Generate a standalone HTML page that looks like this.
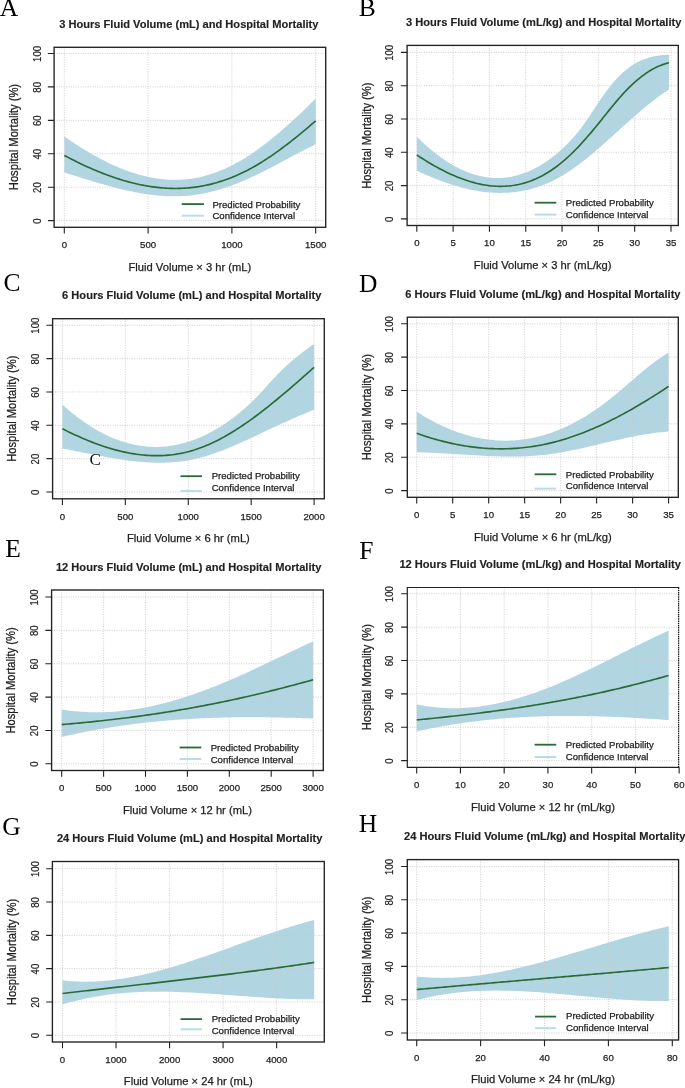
<!DOCTYPE html>
<html><head><meta charset="utf-8"><style>
html,body{margin:0;padding:0;background:#fff;}
body{width:685px;height:1088px;overflow:hidden;}
svg{display:block;will-change:transform;}
text{font-family:"Liberation Sans",sans-serif;fill:#222222;}
.tk,.lab,.lg{stroke:#222;stroke-width:0.25px;}
.tk{font-size:9.6px;}
.tky{font-size:10px;stroke:#222;stroke-width:0.2px;}
.lab{font-size:11.2px;}
.laby{font-size:12px;stroke:#222;stroke-width:0.25px;}
.ttl{font-size:11.1px;font-weight:bold;stroke:#222;stroke-width:0.15px;}
.lg{font-size:9.6px;}
.let{font-family:"Liberation Serif",serif;font-size:25.5px;fill:#000;}
.strayc{font-family:"Liberation Serif",serif;font-size:17px;fill:#111;}
</style></head><body>
<svg width="685" height="1088" viewBox="0 0 685 1088">
<polygon points="64.3,136.4 66.41,137.87 68.53,139.32 70.64,140.76 72.75,142.18 74.86,143.57 76.98,144.95 79.09,146.31 81.2,147.64 83.31,148.96 85.43,150.25 87.54,151.52 89.65,152.77 91.76,153.99 93.88,155.2 95.99,156.37 98.1,157.53 100.21,158.66 102.33,159.76 104.44,160.84 106.55,161.9 108.66,162.93 110.78,163.93 112.89,164.91 115,165.85 117.12,166.78 119.23,167.67 121.34,168.53 123.45,169.37 125.57,170.18 127.68,170.96 129.79,171.7 131.9,172.42 134.02,173.11 136.13,173.77 138.24,174.39 140.35,174.99 142.47,175.55 144.58,176.08 146.69,176.57 148.8,177.04 150.92,177.47 153.03,177.86 155.14,178.22 157.25,178.55 159.37,178.84 161.48,179.09 163.59,179.31 165.71,179.5 167.82,179.64 169.93,179.75 172.04,179.82 174.16,179.86 176.27,179.85 178.38,179.81 180.49,179.73 182.61,179.61 184.72,179.45 186.83,179.25 188.94,179 191.06,178.72 193.17,178.4 195.28,178.03 197.39,177.63 199.51,177.18 201.62,176.7 203.73,176.17 205.84,175.6 207.96,174.99 210.07,174.35 212.18,173.66 214.29,172.93 216.41,172.17 218.52,171.36 220.63,170.52 222.75,169.64 224.86,168.72 226.97,167.76 229.08,166.76 231.2,165.72 233.31,164.65 235.42,163.53 237.53,162.38 239.65,161.19 241.76,159.97 243.87,158.7 245.98,157.4 248.1,156.06 250.21,154.69 252.32,153.28 254.43,151.83 256.55,150.35 258.66,148.83 260.77,147.28 262.88,145.7 265,144.08 267.11,142.44 269.22,140.77 271.34,139.07 273.45,137.34 275.56,135.59 277.67,133.81 279.79,132.01 281.9,130.19 284.01,128.34 286.12,126.47 288.24,124.59 290.35,122.68 292.46,120.76 294.57,118.82 296.69,116.87 298.8,114.9 300.91,112.92 303.02,110.92 305.14,108.92 307.25,106.9 309.36,104.87 311.47,102.84 313.59,100.8 315.7,98.75 315.7,144.35 313.59,145.36 311.47,146.39 309.36,147.43 307.25,148.49 305.14,149.56 303.02,150.64 300.91,151.73 298.8,152.83 296.69,153.94 294.57,155.06 292.46,156.18 290.35,157.3 288.24,158.43 286.12,159.56 284.01,160.69 281.9,161.82 279.79,162.95 277.67,164.07 275.56,165.19 273.45,166.31 271.34,167.41 269.22,168.51 267.11,169.6 265,170.68 262.88,171.75 260.77,172.8 258.66,173.84 256.55,174.87 254.43,175.88 252.32,176.87 250.21,177.84 248.1,178.79 245.98,179.72 243.87,180.63 241.76,181.52 239.65,182.39 237.53,183.24 235.42,184.06 233.31,184.86 231.2,185.64 229.08,186.39 226.97,187.12 224.86,187.83 222.75,188.51 220.63,189.16 218.52,189.79 216.41,190.39 214.29,190.97 212.18,191.52 210.07,192.04 207.96,192.53 205.84,192.99 203.73,193.43 201.62,193.84 199.51,194.21 197.39,194.56 195.28,194.88 193.17,195.16 191.06,195.42 188.94,195.64 186.83,195.83 184.72,195.99 182.61,196.12 180.49,196.22 178.38,196.29 176.27,196.33 174.16,196.34 172.04,196.33 169.93,196.29 167.82,196.22 165.71,196.13 163.59,196.01 161.48,195.86 159.37,195.69 157.25,195.5 155.14,195.29 153.03,195.05 150.92,194.79 148.8,194.51 146.69,194.21 144.58,193.89 142.47,193.55 140.35,193.19 138.24,192.81 136.13,192.41 134.02,192 131.9,191.57 129.79,191.12 127.68,190.66 125.57,190.18 123.45,189.69 121.34,189.19 119.23,188.67 117.12,188.14 115,187.6 112.89,187.04 110.78,186.48 108.66,185.91 106.55,185.32 104.44,184.73 102.33,184.12 100.21,183.51 98.1,182.9 95.99,182.27 93.88,181.64 91.76,181.01 89.65,180.36 87.54,179.72 85.43,179.07 83.31,178.42 81.2,177.76 79.09,177.1 76.98,176.44 74.86,175.78 72.75,175.12 70.64,174.46 68.53,173.8 66.41,173.14 64.3,172.48" fill="#b1d6e2"/>
<path d="M64.3 47.3V227.3M148.1 47.3V227.3M231.9 47.3V227.3M315.7 47.3V227.3M54.1 220.6H325.7M54.1 187.18H325.7M54.1 153.76H325.7M54.1 120.34H325.7M54.1 86.92H325.7M54.1 53.5H325.7" stroke="#c8c8c8" stroke-width="0.9" stroke-dasharray="1 1.4" fill="none"/>
<polyline points="64.3,155.43 66.41,156.54 68.53,157.64 70.64,158.73 72.75,159.8 74.86,160.86 76.98,161.9 79.09,162.93 81.2,163.94 83.31,164.94 85.43,165.92 87.54,166.88 89.65,167.82 91.76,168.75 93.88,169.66 95.99,170.56 98.1,171.43 100.21,172.29 102.33,173.13 104.44,173.94 106.55,174.74 108.66,175.53 110.78,176.29 112.89,177.03 115,177.75 117.12,178.45 119.23,179.12 121.34,179.78 123.45,180.42 125.57,181.03 127.68,181.62 129.79,182.19 131.9,182.74 134.02,183.26 136.13,183.76 138.24,184.24 140.35,184.69 142.47,185.12 144.58,185.52 146.69,185.9 148.8,186.26 150.92,186.59 153.03,186.89 155.14,187.17 157.25,187.42 159.37,187.64 161.48,187.84 163.59,188.01 165.71,188.16 167.82,188.27 169.93,188.36 172.04,188.42 174.16,188.45 176.27,188.45 178.38,188.43 180.49,188.37 182.61,188.28 184.72,188.17 186.83,188.02 188.94,187.85 191.06,187.64 193.17,187.4 195.28,187.13 197.39,186.83 199.51,186.49 201.62,186.13 203.73,185.73 205.84,185.31 207.96,184.85 210.07,184.36 212.18,183.83 214.29,183.28 216.41,182.69 218.52,182.07 220.63,181.41 222.75,180.73 224.86,180.01 226.97,179.26 229.08,178.47 231.2,177.66 233.31,176.81 235.42,175.92 237.53,175.01 239.65,174.05 241.76,173.07 243.87,172.05 245.98,171 248.1,169.91 250.21,168.79 252.32,167.64 254.43,166.45 256.55,165.23 258.66,163.97 260.77,162.69 262.88,161.37 265,160.02 267.11,158.65 269.22,157.25 271.34,155.81 273.45,154.36 275.56,152.87 277.67,151.37 279.79,149.83 281.9,148.28 284.01,146.7 286.12,145.1 288.24,143.48 290.35,141.83 292.46,140.17 294.57,138.49 296.69,136.8 298.8,135.08 300.91,133.35 303.02,131.61 305.14,129.85 307.25,128.07 309.36,126.29 311.47,124.49 313.59,122.68 315.7,120.86" fill="none" stroke="#2b6937" stroke-width="1.65" stroke-linejoin="round"/>
<rect x="54.1" y="47.3" width="271.6" height="180" fill="none" stroke="#222222" stroke-width="1.35"/>
<path d="M64.3 227.3v6.3M148.1 227.3v6.3M231.9 227.3v6.3M315.7 227.3v6.3M54.1 220.6h-6.2M54.1 187.18h-6.2M54.1 153.76h-6.2M54.1 120.34h-6.2M54.1 86.92h-6.2M54.1 53.5h-6.2" stroke="#222222" stroke-width="1.1" fill="none"/>
<text x="64.3" y="248.1" class="tk" text-anchor="middle">0</text>
<text x="148.1" y="248.1" class="tk" text-anchor="middle">500</text>
<text x="231.9" y="248.1" class="tk" text-anchor="middle">1000</text>
<text x="315.7" y="248.1" class="tk" text-anchor="middle">1500</text>
<text class="tky" text-anchor="middle" transform="translate(40.5 221) rotate(-90) scale(0.96 1)">0</text>
<text class="tky" text-anchor="middle" transform="translate(40.5 187.58) rotate(-90) scale(0.96 1)">20</text>
<text class="tky" text-anchor="middle" transform="translate(40.5 154.16) rotate(-90) scale(0.96 1)">40</text>
<text class="tky" text-anchor="middle" transform="translate(40.5 120.74) rotate(-90) scale(0.96 1)">60</text>
<text class="tky" text-anchor="middle" transform="translate(40.5 87.32) rotate(-90) scale(0.96 1)">80</text>
<text class="tky" text-anchor="middle" transform="translate(40.5 53.9) rotate(-90) scale(0.96 1)">100</text>
<text x="189.9" y="270.7" class="lab" text-anchor="middle">Fluid Volume × 3 hr (mL)</text>
<text class="laby" text-anchor="middle" transform="translate(17.9 137.05) rotate(-90) scale(0.933 1)">Hospital Mortality (%)</text>
<text x="188.8" y="28" class="ttl" text-anchor="middle">3 Hours Fluid Volume (mL) and Hospital Mortality</text>
<text x="-0.26" y="16.4" class="let">A</text>
<path d="M181.7 204.1H203.9" stroke="#2b6937" stroke-width="1.8"/>
<path d="M181.7 215.7H203.9" stroke="#bcdbe5" stroke-width="2"/>
<text x="212.4" y="207.5" class="lg">Predicted Probability</text>
<text x="212.4" y="219.2" class="lg">Confidence Interval</text>
<polygon points="416.8,136.53 418.92,138.64 421.04,140.69 423.16,142.69 425.28,144.64 427.4,146.53 429.51,148.38 431.63,150.16 433.75,151.9 435.87,153.58 437.99,155.21 440.11,156.78 442.23,158.3 444.35,159.76 446.47,161.17 448.59,162.53 450.71,163.83 452.82,165.07 454.94,166.26 457.06,167.39 459.18,168.47 461.3,169.49 463.42,170.45 465.54,171.36 467.66,172.2 469.78,173 471.9,173.73 474.02,174.41 476.13,175.03 478.25,175.59 480.37,176.1 482.49,176.54 484.61,176.93 486.73,177.25 488.85,177.52 490.97,177.73 493.09,177.88 495.21,177.97 497.33,178 499.44,177.97 501.56,177.88 503.68,177.73 505.8,177.52 507.92,177.25 510.04,176.92 512.16,176.52 514.28,176.07 516.4,175.55 518.52,174.97 520.64,174.33 522.75,173.62 524.87,172.86 526.99,172.03 529.11,171.13 531.23,170.18 533.35,169.16 535.47,168.07 537.59,166.93 539.71,165.71 541.83,164.44 543.95,163.1 546.06,161.69 548.18,160.22 550.3,158.69 552.42,157.09 554.54,155.42 556.66,153.69 558.78,151.89 560.9,150.03 563.02,148.09 565.14,146.09 567.26,144.02 569.37,141.86 571.49,139.61 573.61,137.26 575.73,134.82 577.85,132.26 579.97,129.59 582.09,126.79 584.21,123.87 586.33,120.82 588.45,117.67 590.57,114.45 592.68,111.2 594.8,107.94 596.92,104.71 599.04,101.53 601.16,98.44 603.28,95.42 605.4,92.5 607.52,89.68 609.64,86.95 611.76,84.34 613.88,81.83 615.99,79.44 618.11,77.17 620.23,75.04 622.35,73.03 624.47,71.15 626.59,69.4 628.71,67.76 630.83,66.25 632.95,64.85 635.07,63.56 637.19,62.37 639.3,61.29 641.42,60.31 643.54,59.42 645.66,58.63 647.78,57.92 649.9,57.3 652.02,56.75 654.14,56.28 656.26,55.89 658.38,55.56 660.5,55.3 662.61,55.1 664.73,54.96 666.85,54.87 668.97,54.84 668.97,89.56 666.85,90.93 664.73,92.35 662.61,93.8 660.5,95.3 658.38,96.84 656.26,98.41 654.14,100.02 652.02,101.67 649.9,103.34 647.78,105.05 645.66,106.78 643.54,108.54 641.42,110.32 639.3,112.13 637.19,113.95 635.07,115.79 632.95,117.65 630.83,119.52 628.71,121.41 626.59,123.3 624.47,125.2 622.35,127.11 620.23,129.03 618.11,130.94 615.99,132.86 613.88,134.77 611.76,136.69 609.64,138.59 607.52,140.49 605.4,142.38 603.28,144.26 601.16,146.13 599.04,147.98 596.92,149.81 594.8,151.63 592.68,153.42 590.57,155.19 588.45,156.94 586.33,158.66 584.21,160.35 582.09,162.01 579.97,163.64 577.85,165.23 575.73,166.79 573.61,168.31 571.49,169.79 569.37,171.23 567.26,172.62 565.14,173.97 563.02,175.26 560.9,176.51 558.78,177.71 556.66,178.86 554.54,179.96 552.42,181.01 550.3,182.01 548.18,182.96 546.06,183.87 543.95,184.73 541.83,185.54 539.71,186.31 537.59,187.03 535.47,187.71 533.35,188.34 531.23,188.93 529.11,189.48 526.99,189.98 524.87,190.45 522.75,190.87 520.64,191.25 518.52,191.58 516.4,191.88 514.28,192.14 512.16,192.36 510.04,192.55 507.92,192.69 505.8,192.8 503.68,192.87 501.56,192.91 499.44,192.9 497.33,192.87 495.21,192.8 493.09,192.69 490.97,192.56 488.85,192.38 486.73,192.18 484.61,191.94 482.49,191.68 480.37,191.38 478.25,191.05 476.13,190.69 474.02,190.31 471.9,189.89 469.78,189.45 467.66,188.97 465.54,188.47 463.42,187.95 461.3,187.4 459.18,186.82 457.06,186.22 454.94,185.59 452.82,184.94 450.71,184.26 448.59,183.57 446.47,182.85 444.35,182.11 442.23,181.34 440.11,180.56 437.99,179.75 435.87,178.93 433.75,178.09 431.63,177.23 429.51,176.35 427.4,175.45 425.28,174.54 423.16,173.6 421.04,172.66 418.92,171.7 416.8,170.72" fill="#b1d6e2"/>
<path d="M416.8 45.4V225.5M453.12 45.4V225.5M489.43 45.4V225.5M525.75 45.4V225.5M562.06 45.4V225.5M598.38 45.4V225.5M634.69 45.4V225.5M671 45.4V225.5M407.1 218.9H678.3M407.1 185.6H678.3M407.1 152.3H678.3M407.1 119H678.3M407.1 85.7H678.3M407.1 52.4H678.3" stroke="#c8c8c8" stroke-width="0.9" stroke-dasharray="1 1.4" fill="none"/>
<polyline points="416.8,154.97 418.92,156.36 421.04,157.72 423.16,159.06 425.28,160.38 427.4,161.68 429.51,162.95 431.63,164.19 433.75,165.41 435.87,166.6 437.99,167.77 440.11,168.9 442.23,170.01 444.35,171.09 446.47,172.14 448.59,173.15 450.71,174.14 452.82,175.09 454.94,176.01 457.06,176.9 459.18,177.75 461.3,178.56 463.42,179.34 465.54,180.08 467.66,180.79 469.78,181.45 471.9,182.08 474.02,182.66 476.13,183.21 478.25,183.71 480.37,184.18 482.49,184.6 484.61,184.97 486.73,185.3 488.85,185.59 490.97,185.83 493.09,186.02 495.21,186.17 497.33,186.27 499.44,186.32 501.56,186.32 503.68,186.27 505.8,186.17 507.92,186.01 510.04,185.81 512.16,185.55 514.28,185.24 516.4,184.87 518.52,184.45 520.64,183.97 522.75,183.43 524.87,182.84 526.99,182.18 529.11,181.47 531.23,180.7 533.35,179.87 535.47,178.98 537.59,178.02 539.71,177 541.83,175.92 543.95,174.78 546.06,173.56 548.18,172.29 550.3,170.94 552.42,169.53 554.54,168.05 556.66,166.51 558.78,164.89 560.9,163.2 563.02,161.44 565.14,159.61 567.26,157.72 569.37,155.76 571.49,153.73 573.61,151.65 575.73,149.51 577.85,147.31 579.97,145.06 582.09,142.76 584.21,140.41 586.33,138.02 588.45,135.58 590.57,133.11 592.68,130.6 594.8,128.05 596.92,125.47 599.04,122.86 601.16,120.22 603.28,117.57 605.4,114.91 607.52,112.26 609.64,109.62 611.76,107 613.88,104.41 615.99,101.87 618.11,99.37 620.23,96.94 622.35,94.58 624.47,92.29 626.59,90.07 628.71,87.92 630.83,85.85 632.95,83.86 635.07,81.94 637.19,80.1 639.3,78.35 641.42,76.67 643.54,75.07 645.66,73.56 647.78,72.14 649.9,70.79 652.02,69.54 654.14,68.37 656.26,67.3 658.38,66.31 660.5,65.42 662.61,64.62 664.73,63.91 666.85,63.3 668.97,62.79" fill="none" stroke="#2b6937" stroke-width="1.65" stroke-linejoin="round"/>
<rect x="407.1" y="45.4" width="271.2" height="180.1" fill="none" stroke="#222222" stroke-width="1.35"/>
<path d="M416.8 225.5v6.3M453.12 225.5v6.3M489.43 225.5v6.3M525.75 225.5v6.3M562.06 225.5v6.3M598.38 225.5v6.3M634.69 225.5v6.3M671 225.5v6.3M407.1 218.9h-6.2M407.1 185.6h-6.2M407.1 152.3h-6.2M407.1 119h-6.2M407.1 85.7h-6.2M407.1 52.4h-6.2" stroke="#222222" stroke-width="1.1" fill="none"/>
<text x="416.8" y="246.3" class="tk" text-anchor="middle">0</text>
<text x="453.12" y="246.3" class="tk" text-anchor="middle">5</text>
<text x="489.43" y="246.3" class="tk" text-anchor="middle">10</text>
<text x="525.75" y="246.3" class="tk" text-anchor="middle">15</text>
<text x="562.06" y="246.3" class="tk" text-anchor="middle">20</text>
<text x="598.38" y="246.3" class="tk" text-anchor="middle">25</text>
<text x="634.69" y="246.3" class="tk" text-anchor="middle">30</text>
<text x="671" y="246.3" class="tk" text-anchor="middle">35</text>
<text class="tky" text-anchor="middle" transform="translate(393.2 219.3) rotate(-90) scale(0.96 1)">0</text>
<text class="tky" text-anchor="middle" transform="translate(393.2 186) rotate(-90) scale(0.96 1)">20</text>
<text class="tky" text-anchor="middle" transform="translate(393.2 152.7) rotate(-90) scale(0.96 1)">40</text>
<text class="tky" text-anchor="middle" transform="translate(393.2 119.4) rotate(-90) scale(0.96 1)">60</text>
<text class="tky" text-anchor="middle" transform="translate(393.2 86.1) rotate(-90) scale(0.96 1)">80</text>
<text class="tky" text-anchor="middle" transform="translate(393.2 52.8) rotate(-90) scale(0.96 1)">100</text>
<text x="542.7" y="268.9" class="lab" text-anchor="middle">Fluid Volume × 3 hr (mL/kg)</text>
<text class="laby" text-anchor="middle" transform="translate(370.6 135.65) rotate(-90) scale(0.933 1)">Hospital Mortality (%)</text>
<text x="543.7" y="26.1" class="ttl" text-anchor="middle">3 Hours Fluid Volume (mL/kg) and Hospital Mortality</text>
<text x="358.66" y="15.95" class="let">B</text>
<path d="M534.6 202.7H556.3" stroke="#2b6937" stroke-width="1.8"/>
<path d="M534.6 214.6H556.3" stroke="#bcdbe5" stroke-width="2"/>
<text x="565.8" y="206.1" class="lg">Predicted Probability</text>
<text x="565.8" y="217.8" class="lg">Confidence Interval</text>
<polygon points="62.4,404.56 64.52,406.46 66.63,408.32 68.75,410.14 70.86,411.91 72.98,413.63 75.09,415.32 77.21,416.96 79.32,418.55 81.44,420.1 83.55,421.61 85.67,423.07 87.78,424.5 89.9,425.87 92.01,427.2 94.13,428.49 96.24,429.74 98.36,430.94 100.47,432.1 102.59,433.21 104.7,434.28 106.82,435.31 108.93,436.29 111.05,437.23 113.16,438.13 115.28,438.98 117.39,439.79 119.51,440.56 121.62,441.28 123.74,441.96 125.85,442.59 127.97,443.18 130.08,443.73 132.2,444.23 134.31,444.69 136.43,445.11 138.54,445.48 140.66,445.81 142.77,446.1 144.89,446.34 147.01,446.54 149.12,446.7 151.24,446.81 153.35,446.88 155.47,446.9 157.58,446.89 159.7,446.82 161.81,446.72 163.93,446.57 166.04,446.38 168.16,446.15 170.27,445.87 172.39,445.55 174.5,445.18 176.62,444.77 178.73,444.32 180.85,443.83 182.96,443.29 185.08,442.71 187.19,442.09 189.31,441.42 191.42,440.71 193.54,439.95 195.65,439.16 197.77,438.32 199.88,437.43 202,436.5 204.11,435.53 206.23,434.52 208.34,433.47 210.46,432.37 212.57,431.22 214.69,430.04 216.8,428.81 218.92,427.54 221.03,426.22 223.15,424.86 225.26,423.46 227.38,422.02 229.49,420.52 231.61,418.98 233.73,417.4 235.84,415.77 237.96,414.09 240.07,412.36 242.19,410.58 244.3,408.75 246.42,406.87 248.53,404.94 250.65,402.95 252.76,400.91 254.88,398.82 256.99,396.68 259.11,394.48 261.22,392.22 263.34,389.92 265.45,387.58 267.57,385.22 269.68,382.86 271.8,380.52 273.91,378.22 276.03,375.97 278.14,373.79 280.26,371.66 282.37,369.59 284.49,367.57 286.6,365.61 288.72,363.7 290.83,361.84 292.95,360.02 295.06,358.25 297.18,356.51 299.29,354.82 301.41,353.17 303.52,351.55 305.64,349.96 307.75,348.4 309.87,346.87 311.98,345.37 314.1,343.89 314.1,409.77 311.98,410.6 309.87,411.44 307.75,412.29 305.64,413.16 303.52,414.04 301.41,414.93 299.29,415.83 297.18,416.74 295.06,417.66 292.95,418.58 290.83,419.52 288.72,420.47 286.6,421.42 284.49,422.38 282.37,423.34 280.26,424.31 278.14,425.29 276.03,426.27 273.91,427.25 271.8,428.24 269.68,429.23 267.57,430.23 265.45,431.22 263.34,432.21 261.22,433.21 259.11,434.21 256.99,435.2 254.88,436.19 252.76,437.18 250.65,438.17 248.53,439.15 246.42,440.13 244.3,441.1 242.19,442.06 240.07,443.01 237.96,443.95 235.84,444.87 233.73,445.79 231.61,446.69 229.49,447.58 227.38,448.45 225.26,449.3 223.15,450.14 221.03,450.96 218.92,451.75 216.8,452.53 214.69,453.28 212.57,454.01 210.46,454.71 208.34,455.39 206.23,456.05 204.11,456.67 202,457.26 199.88,457.83 197.77,458.36 195.65,458.87 193.54,459.33 191.42,459.77 189.31,460.17 187.19,460.54 185.08,460.88 182.96,461.19 180.85,461.46 178.73,461.71 176.62,461.93 174.5,462.12 172.39,462.28 170.27,462.42 168.16,462.52 166.04,462.61 163.93,462.66 161.81,462.7 159.7,462.71 157.58,462.69 155.47,462.66 153.35,462.6 151.24,462.52 149.12,462.42 147.01,462.3 144.89,462.16 142.77,462 140.66,461.82 138.54,461.63 136.43,461.42 134.31,461.19 132.2,460.95 130.08,460.7 127.97,460.43 125.85,460.14 123.74,459.85 121.62,459.54 119.51,459.22 117.39,458.88 115.28,458.54 113.16,458.19 111.05,457.83 108.93,457.46 106.82,457.09 104.7,456.71 102.59,456.32 100.47,455.92 98.36,455.52 96.24,455.12 94.13,454.71 92.01,454.3 89.9,453.88 87.78,453.47 85.67,453.05 83.55,452.64 81.44,452.22 79.32,451.8 77.21,451.39 75.09,450.98 72.98,450.57 70.86,450.16 68.75,449.76 66.63,449.36 64.52,448.97 62.4,448.58" fill="#b1d6e2"/>
<path d="M62.4 318.7V498.8M125.32 318.7V498.8M188.25 318.7V498.8M251.17 318.7V498.8M314.1 318.7V498.8M52.6 492H324.3M52.6 458.66H324.3M52.6 425.32H324.3M52.6 391.98H324.3M52.6 358.64H324.3M52.6 325.3H324.3" stroke="#c8c8c8" stroke-width="0.9" stroke-dasharray="1 1.4" fill="none"/>
<polyline points="62.4,428.78 64.52,429.84 66.63,430.88 68.75,431.91 70.86,432.93 72.98,433.93 75.09,434.91 77.21,435.87 79.32,436.82 81.44,437.75 83.55,438.66 85.67,439.55 87.78,440.42 89.9,441.27 92.01,442.11 94.13,442.92 96.24,443.71 98.36,444.48 100.47,445.23 102.59,445.96 104.7,446.66 106.82,447.34 108.93,448 111.05,448.64 113.16,449.25 115.28,449.83 117.39,450.39 119.51,450.92 121.62,451.43 123.74,451.91 125.85,452.37 127.97,452.8 130.08,453.2 132.2,453.57 134.31,453.91 136.43,454.23 138.54,454.51 140.66,454.77 142.77,454.99 144.89,455.19 147.01,455.35 149.12,455.48 151.24,455.58 153.35,455.65 155.47,455.68 157.58,455.69 159.7,455.65 161.81,455.59 163.93,455.49 166.04,455.35 168.16,455.18 170.27,454.97 172.39,454.73 174.5,454.45 176.62,454.13 178.73,453.78 180.85,453.39 182.96,452.96 185.08,452.49 187.19,451.98 189.31,451.43 191.42,450.84 193.54,450.21 195.65,449.54 197.77,448.83 199.88,448.08 202,447.29 204.11,446.46 206.23,445.6 208.34,444.69 210.46,443.75 212.57,442.78 214.69,441.77 216.8,440.72 218.92,439.64 221.03,438.53 223.15,437.38 225.26,436.21 227.38,435 229.49,433.76 231.61,432.49 233.73,431.2 235.84,429.87 237.96,428.52 240.07,427.14 242.19,425.73 244.3,424.3 246.42,422.85 248.53,421.36 250.65,419.86 252.76,418.34 254.88,416.79 256.99,415.22 259.11,413.63 261.22,412.02 263.34,410.39 265.45,408.74 267.57,407.07 269.68,405.39 271.8,403.69 273.91,401.98 276.03,400.25 278.14,398.5 280.26,396.74 282.37,394.97 284.49,393.19 286.6,391.39 288.72,389.59 290.83,387.77 292.95,385.95 295.06,384.11 297.18,382.27 299.29,380.42 301.41,378.56 303.52,376.7 305.64,374.83 307.75,372.96 309.87,371.08 311.98,369.2 314.1,367.32" fill="none" stroke="#2b6937" stroke-width="1.65" stroke-linejoin="round"/>
<rect x="52.6" y="318.7" width="271.7" height="180.1" fill="none" stroke="#222222" stroke-width="1.35"/>
<path d="M62.4 498.8v6.3M125.32 498.8v6.3M188.25 498.8v6.3M251.17 498.8v6.3M314.1 498.8v6.3M52.6 492h-6.2M52.6 458.66h-6.2M52.6 425.32h-6.2M52.6 391.98h-6.2M52.6 358.64h-6.2M52.6 325.3h-6.2" stroke="#222222" stroke-width="1.1" fill="none"/>
<text x="62.4" y="519.6" class="tk" text-anchor="middle">0</text>
<text x="125.32" y="519.6" class="tk" text-anchor="middle">500</text>
<text x="188.25" y="519.6" class="tk" text-anchor="middle">1000</text>
<text x="251.17" y="519.6" class="tk" text-anchor="middle">1500</text>
<text x="314.1" y="519.6" class="tk" text-anchor="middle">2000</text>
<text class="tky" text-anchor="middle" transform="translate(38.7 492.4) rotate(-90) scale(0.96 1)">0</text>
<text class="tky" text-anchor="middle" transform="translate(38.7 459.06) rotate(-90) scale(0.96 1)">20</text>
<text class="tky" text-anchor="middle" transform="translate(38.7 425.72) rotate(-90) scale(0.96 1)">40</text>
<text class="tky" text-anchor="middle" transform="translate(38.7 392.38) rotate(-90) scale(0.96 1)">60</text>
<text class="tky" text-anchor="middle" transform="translate(38.7 359.04) rotate(-90) scale(0.96 1)">80</text>
<text class="tky" text-anchor="middle" transform="translate(38.7 325.7) rotate(-90) scale(0.96 1)">100</text>
<text x="188.45" y="542.2" class="lab" text-anchor="middle">Fluid Volume × 6 hr (mL)</text>
<text class="laby" text-anchor="middle" transform="translate(16.1 408.65) rotate(-90) scale(0.933 1)">Hospital Mortality (%)</text>
<text x="191.75" y="299.4" class="ttl" text-anchor="middle">6 Hours Fluid Volume (mL) and Hospital Mortality</text>
<text x="3.55" y="290.6" class="let">C</text>
<path d="M180.5 476.2H202" stroke="#2b6937" stroke-width="1.8"/>
<path d="M180.5 490.9H202" stroke="#bcdbe5" stroke-width="2"/>
<text x="211.7" y="479.2" class="lg">Predicted Probability</text>
<text x="211.7" y="490.6" class="lg">Confidence Interval</text>
<polygon points="416.7,411.7 418.82,413.05 420.93,414.37 423.05,415.65 425.17,416.9 427.28,418.13 429.4,419.32 431.52,420.47 433.63,421.6 435.75,422.7 437.87,423.76 439.98,424.79 442.1,425.79 444.22,426.76 446.33,427.7 448.45,428.6 450.57,429.47 452.69,430.31 454.8,431.12 456.92,431.89 459.04,432.64 461.15,433.35 463.27,434.03 465.39,434.67 467.5,435.28 469.62,435.86 471.74,436.41 473.85,436.93 475.97,437.41 478.09,437.86 480.2,438.27 482.32,438.66 484.44,439.01 486.55,439.32 488.67,439.61 490.79,439.86 492.9,440.07 495.02,440.26 497.14,440.41 499.25,440.52 501.37,440.61 503.49,440.66 505.6,440.67 507.72,440.66 509.84,440.6 511.95,440.52 514.07,440.4 516.19,440.25 518.3,440.06 520.42,439.84 522.54,439.58 524.65,439.29 526.77,438.97 528.89,438.61 531.01,438.22 533.12,437.79 535.24,437.33 537.36,436.84 539.47,436.3 541.59,435.74 543.71,435.14 545.82,434.51 547.94,433.84 550.06,433.13 552.17,432.39 554.29,431.62 556.41,430.81 558.52,429.97 560.64,429.09 562.76,428.18 564.87,427.23 566.99,426.25 569.11,425.23 571.22,424.18 573.34,423.1 575.46,421.98 577.57,420.83 579.69,419.65 581.81,418.43 583.92,417.17 586.04,415.89 588.16,414.57 590.27,413.21 592.39,411.83 594.51,410.41 596.62,408.95 598.74,407.47 600.86,405.95 602.98,404.39 605.09,402.81 607.21,401.19 609.33,399.54 611.44,397.85 613.56,396.14 615.68,394.4 617.79,392.64 619.91,390.86 622.03,389.06 624.14,387.26 626.26,385.44 628.38,383.62 630.49,381.8 632.61,379.97 634.73,378.16 636.84,376.35 638.96,374.55 641.08,372.77 643.19,371.01 645.31,369.27 647.43,367.56 649.54,365.87 651.66,364.22 653.78,362.6 655.89,361.02 658.01,359.48 660.13,357.99 662.24,356.55 664.36,355.17 666.48,353.84 668.6,352.56 668.6,431.62 666.48,431.77 664.36,431.94 662.24,432.13 660.13,432.34 658.01,432.57 655.89,432.83 653.78,433.1 651.66,433.39 649.54,433.69 647.43,434.02 645.31,434.36 643.19,434.71 641.08,435.08 638.96,435.46 636.84,435.86 634.73,436.27 632.61,436.69 630.49,437.12 628.38,437.56 626.26,438.01 624.14,438.47 622.03,438.94 619.91,439.41 617.79,439.89 615.68,440.38 613.56,440.87 611.44,441.36 609.33,441.86 607.21,442.36 605.09,442.86 602.98,443.37 600.86,443.87 598.74,444.37 596.62,444.88 594.51,445.38 592.39,445.87 590.27,446.37 588.16,446.86 586.04,447.34 583.92,447.82 581.81,448.3 579.69,448.76 577.57,449.22 575.46,449.67 573.34,450.11 571.22,450.54 569.11,450.96 566.99,451.37 564.87,451.77 562.76,452.15 560.64,452.52 558.52,452.87 556.41,453.21 554.29,453.54 552.17,453.84 550.06,454.13 547.94,454.4 545.82,454.65 543.71,454.89 541.59,455.1 539.47,455.3 537.36,455.48 535.24,455.65 533.12,455.8 531.01,455.93 528.89,456.05 526.77,456.15 524.65,456.24 522.54,456.31 520.42,456.38 518.3,456.42 516.19,456.46 514.07,456.48 511.95,456.5 509.84,456.5 507.72,456.49 505.6,456.47 503.49,456.44 501.37,456.4 499.25,456.35 497.14,456.3 495.02,456.23 492.9,456.16 490.79,456.08 488.67,456 486.55,455.9 484.44,455.81 482.32,455.7 480.2,455.6 478.09,455.48 475.97,455.37 473.85,455.25 471.74,455.12 469.62,455 467.5,454.87 465.39,454.74 463.27,454.61 461.15,454.48 459.04,454.35 456.92,454.21 454.8,454.08 452.69,453.95 450.57,453.82 448.45,453.69 446.33,453.57 444.22,453.45 442.1,453.33 439.98,453.21 437.87,453.1 435.75,452.99 433.63,452.89 431.52,452.79 429.4,452.7 427.28,452.62 425.17,452.54 423.05,452.47 420.93,452.4 418.82,452.35 416.7,452.3" fill="#b1d6e2"/>
<path d="M416.7 317.2V497.3M452.69 317.2V497.3M488.67 317.2V497.3M524.65 317.2V497.3M560.64 317.2V497.3M596.62 317.2V497.3M632.61 317.2V497.3M668.6 317.2V497.3M407.3 490.6H678.3M407.3 457.24H678.3M407.3 423.88H678.3M407.3 390.52H678.3M407.3 357.16H678.3M407.3 323.8H678.3" stroke="#c8c8c8" stroke-width="0.9" stroke-dasharray="1 1.4" fill="none"/>
<polyline points="416.7,433.31 418.82,434.06 420.93,434.79 423.05,435.5 425.17,436.2 427.28,436.88 429.4,437.54 431.52,438.18 433.63,438.8 435.75,439.41 437.87,440 439.98,440.57 442.1,441.12 444.22,441.65 446.33,442.17 448.45,442.67 450.57,443.14 452.69,443.6 454.8,444.04 456.92,444.47 459.04,444.87 461.15,445.25 463.27,445.62 465.39,445.97 467.5,446.29 469.62,446.6 471.74,446.89 473.85,447.16 475.97,447.41 478.09,447.63 480.2,447.84 482.32,448.03 484.44,448.2 486.55,448.35 488.67,448.48 490.79,448.59 492.9,448.68 495.02,448.75 497.14,448.8 499.25,448.83 501.37,448.84 503.49,448.82 505.6,448.79 507.72,448.73 509.84,448.66 511.95,448.56 514.07,448.44 516.19,448.31 518.3,448.15 520.42,447.96 522.54,447.76 524.65,447.54 526.77,447.29 528.89,447.02 531.01,446.73 533.12,446.42 535.24,446.09 537.36,445.73 539.47,445.36 541.59,444.96 543.71,444.54 545.82,444.09 547.94,443.62 550.06,443.14 552.17,442.62 554.29,442.09 556.41,441.53 558.52,440.96 560.64,440.36 562.76,439.74 564.87,439.1 566.99,438.44 569.11,437.75 571.22,437.05 573.34,436.33 575.46,435.58 577.57,434.82 579.69,434.04 581.81,433.24 583.92,432.42 586.04,431.58 588.16,430.72 590.27,429.84 592.39,428.95 594.51,428.03 596.62,427.1 598.74,426.15 600.86,425.19 602.98,424.2 605.09,423.2 607.21,422.19 609.33,421.15 611.44,420.1 613.56,419.04 615.68,417.96 617.79,416.86 619.91,415.75 622.03,414.62 624.14,413.48 626.26,412.32 628.38,411.15 630.49,409.96 632.61,408.76 634.73,407.55 636.84,406.32 638.96,405.08 641.08,403.82 643.19,402.55 645.31,401.27 647.43,399.98 649.54,398.67 651.66,397.36 653.78,396.03 655.89,394.68 658.01,393.33 660.13,391.97 662.24,390.59 664.36,389.21 666.48,387.81 668.6,386.4" fill="none" stroke="#2b6937" stroke-width="1.65" stroke-linejoin="round"/>
<rect x="407.3" y="317.2" width="271" height="180.1" fill="none" stroke="#222222" stroke-width="1.35"/>
<path d="M416.7 497.3v6.3M452.69 497.3v6.3M488.67 497.3v6.3M524.65 497.3v6.3M560.64 497.3v6.3M596.62 497.3v6.3M632.61 497.3v6.3M668.6 497.3v6.3M407.3 490.6h-6.2M407.3 457.24h-6.2M407.3 423.88h-6.2M407.3 390.52h-6.2M407.3 357.16h-6.2M407.3 323.8h-6.2" stroke="#222222" stroke-width="1.1" fill="none"/>
<text x="416.7" y="518.1" class="tk" text-anchor="middle">0</text>
<text x="452.69" y="518.1" class="tk" text-anchor="middle">5</text>
<text x="488.67" y="518.1" class="tk" text-anchor="middle">10</text>
<text x="524.65" y="518.1" class="tk" text-anchor="middle">15</text>
<text x="560.64" y="518.1" class="tk" text-anchor="middle">20</text>
<text x="596.62" y="518.1" class="tk" text-anchor="middle">25</text>
<text x="632.61" y="518.1" class="tk" text-anchor="middle">30</text>
<text x="668.6" y="518.1" class="tk" text-anchor="middle">35</text>
<text class="tky" text-anchor="middle" transform="translate(393.4 491) rotate(-90) scale(0.96 1)">0</text>
<text class="tky" text-anchor="middle" transform="translate(393.4 457.64) rotate(-90) scale(0.96 1)">20</text>
<text class="tky" text-anchor="middle" transform="translate(393.4 424.28) rotate(-90) scale(0.96 1)">40</text>
<text class="tky" text-anchor="middle" transform="translate(393.4 390.92) rotate(-90) scale(0.96 1)">60</text>
<text class="tky" text-anchor="middle" transform="translate(393.4 357.56) rotate(-90) scale(0.96 1)">80</text>
<text class="tky" text-anchor="middle" transform="translate(393.4 324.2) rotate(-90) scale(0.96 1)">100</text>
<text x="542.8" y="540.7" class="lab" text-anchor="middle">Fluid Volume × 6 hr (mL/kg)</text>
<text class="laby" text-anchor="middle" transform="translate(370.8 407.2) rotate(-90) scale(0.933 1)">Hospital Mortality (%)</text>
<text x="542.9" y="297.9" class="ttl" text-anchor="middle">6 Hours Fluid Volume (mL/kg) and Hospital Mortality</text>
<text x="359.06" y="291.8" class="let">D</text>
<path d="M534.6 474.3H556.3" stroke="#2b6937" stroke-width="1.8"/>
<path d="M534.6 488.6H556.3" stroke="#bcdbe5" stroke-width="2"/>
<text x="565.8" y="477.5" class="lg">Predicted Probability</text>
<text x="565.8" y="489.2" class="lg">Confidence Interval</text>
<polygon points="61.7,709.43 63.81,709.77 65.93,710.09 68.04,710.39 70.15,710.67 72.26,710.92 74.38,711.15 76.49,711.36 78.6,711.55 80.71,711.72 82.83,711.87 84.94,711.99 87.05,712.09 89.16,712.18 91.28,712.24 93.39,712.28 95.5,712.31 97.61,712.31 99.73,712.29 101.84,712.25 103.95,712.2 106.06,712.12 108.18,712.03 110.29,711.91 112.4,711.78 114.52,711.63 116.63,711.46 118.74,711.27 120.85,711.07 122.97,710.84 125.08,710.6 127.19,710.34 129.3,710.07 131.42,709.78 133.53,709.46 135.64,709.14 137.75,708.79 139.87,708.43 141.98,708.06 144.09,707.66 146.2,707.25 148.32,706.83 150.43,706.39 152.54,705.93 154.65,705.46 156.77,704.98 158.88,704.47 160.99,703.96 163.11,703.43 165.22,702.88 167.33,702.32 169.44,701.75 171.56,701.16 173.67,700.56 175.78,699.95 177.89,699.32 180.01,698.68 182.12,698.02 184.23,697.36 186.34,696.68 188.46,695.99 190.57,695.28 192.68,694.56 194.79,693.84 196.91,693.09 199.02,692.34 201.13,691.58 203.24,690.8 205.36,690.02 207.47,689.22 209.58,688.41 211.69,687.59 213.81,686.76 215.92,685.93 218.03,685.08 220.15,684.22 222.26,683.35 224.37,682.47 226.48,681.58 228.6,680.68 230.71,679.78 232.82,678.86 234.93,677.94 237.05,677.01 239.16,676.07 241.27,675.12 243.38,674.17 245.5,673.21 247.61,672.25 249.72,671.27 251.83,670.3 253.95,669.32 256.06,668.33 258.17,667.34 260.28,666.35 262.4,665.35 264.51,664.35 266.62,663.35 268.74,662.34 270.85,661.34 272.96,660.33 275.07,659.32 277.19,658.31 279.3,657.3 281.41,656.29 283.52,655.28 285.64,654.27 287.75,653.27 289.86,652.26 291.97,651.26 294.09,650.26 296.2,649.26 298.31,648.26 300.42,647.27 302.54,646.28 304.65,645.3 306.76,644.32 308.87,643.35 310.99,642.38 313.1,641.42 313.1,718.54 310.99,718.45 308.87,718.37 306.76,718.29 304.65,718.22 302.54,718.14 300.42,718.07 298.31,718 296.2,717.94 294.09,717.87 291.97,717.81 289.86,717.75 287.75,717.7 285.64,717.65 283.52,717.6 281.41,717.55 279.3,717.5 277.19,717.46 275.07,717.43 272.96,717.39 270.85,717.36 268.74,717.33 266.62,717.3 264.51,717.28 262.4,717.26 260.28,717.25 258.17,717.24 256.06,717.23 253.95,717.22 251.83,717.22 249.72,717.22 247.61,717.23 245.5,717.24 243.38,717.25 241.27,717.27 239.16,717.29 237.05,717.31 234.93,717.34 232.82,717.37 230.71,717.41 228.6,717.44 226.48,717.49 224.37,717.54 222.26,717.59 220.15,717.65 218.03,717.71 215.92,717.77 213.81,717.84 211.69,717.91 209.58,717.99 207.47,718.07 205.36,718.16 203.24,718.25 201.13,718.35 199.02,718.45 196.91,718.55 194.79,718.66 192.68,718.78 190.57,718.9 188.46,719.02 186.34,719.15 184.23,719.29 182.12,719.42 180.01,719.57 177.89,719.72 175.78,719.87 173.67,720.03 171.56,720.2 169.44,720.37 167.33,720.54 165.22,720.72 163.11,720.91 160.99,721.1 158.88,721.3 156.77,721.5 154.65,721.71 152.54,721.92 150.43,722.14 148.32,722.37 146.2,722.6 144.09,722.83 141.98,723.08 139.87,723.32 137.75,723.58 135.64,723.84 133.53,724.1 131.42,724.38 129.3,724.65 127.19,724.94 125.08,725.23 122.97,725.53 120.85,725.83 118.74,726.14 116.63,726.45 114.52,726.78 112.4,727.1 110.29,727.44 108.18,727.78 106.06,728.13 103.95,728.48 101.84,728.84 99.73,729.21 97.61,729.59 95.5,729.97 93.39,730.36 91.28,730.75 89.16,731.16 87.05,731.56 84.94,731.98 82.83,732.4 80.71,732.84 78.6,733.27 76.49,733.72 74.38,734.17 72.26,734.63 70.15,735.1 68.04,735.57 65.93,736.05 63.81,736.54 61.7,737.04" fill="#b1d6e2"/>
<path d="M61.7 590V770.5M103.6 590V770.5M145.5 590V770.5M187.4 590V770.5M229.3 590V770.5M271.2 590V770.5M313.1 590V770.5M51.6 763.8H323.3M51.6 730.44H323.3M51.6 697.08H323.3M51.6 663.72H323.3M51.6 630.36H323.3M51.6 597H323.3" stroke="#c8c8c8" stroke-width="0.9" stroke-dasharray="1 1.4" fill="none"/>
<polyline points="61.7,724.58 63.81,724.4 65.93,724.22 68.04,724.04 70.15,723.85 72.26,723.67 74.38,723.47 76.49,723.28 78.6,723.08 80.71,722.89 82.83,722.68 84.94,722.48 87.05,722.27 89.16,722.06 91.28,721.84 93.39,721.63 95.5,721.41 97.61,721.19 99.73,720.96 101.84,720.73 103.95,720.5 106.06,720.26 108.18,720.02 110.29,719.78 112.4,719.54 114.52,719.29 116.63,719.04 118.74,718.79 120.85,718.53 122.97,718.27 125.08,718 127.19,717.74 129.3,717.46 131.42,717.19 133.53,716.91 135.64,716.63 137.75,716.35 139.87,716.06 141.98,715.77 144.09,715.47 146.2,715.18 148.32,714.87 150.43,714.57 152.54,714.26 154.65,713.95 156.77,713.63 158.88,713.31 160.99,712.99 163.11,712.66 165.22,712.33 167.33,712 169.44,711.66 171.56,711.32 173.67,710.97 175.78,710.62 177.89,710.27 180.01,709.92 182.12,709.56 184.23,709.19 186.34,708.82 188.46,708.45 190.57,708.08 192.68,707.7 194.79,707.31 196.91,706.93 199.02,706.53 201.13,706.14 203.24,705.74 205.36,705.34 207.47,704.93 209.58,704.52 211.69,704.11 213.81,703.69 215.92,703.27 218.03,702.84 220.15,702.41 222.26,701.98 224.37,701.54 226.48,701.09 228.6,700.65 230.71,700.2 232.82,699.75 234.93,699.29 237.05,698.83 239.16,698.36 241.27,697.89 243.38,697.42 245.5,696.94 247.61,696.46 249.72,695.97 251.83,695.48 253.95,694.99 256.06,694.5 258.17,694 260.28,693.49 262.4,692.98 264.51,692.47 266.62,691.96 268.74,691.44 270.85,690.92 272.96,690.39 275.07,689.86 277.19,689.33 279.3,688.79 281.41,688.25 283.52,687.71 285.64,687.16 287.75,686.61 289.86,686.05 291.97,685.5 294.09,684.94 296.2,684.37 298.31,683.81 300.42,683.24 302.54,682.66 304.65,682.09 306.76,681.51 308.87,680.93 310.99,680.34 313.1,679.75" fill="none" stroke="#2b6937" stroke-width="1.65" stroke-linejoin="round"/>
<rect x="51.6" y="590" width="271.7" height="180.5" fill="none" stroke="#222222" stroke-width="1.35"/>
<path d="M61.7 770.5v6.3M103.6 770.5v6.3M145.5 770.5v6.3M187.4 770.5v6.3M229.3 770.5v6.3M271.2 770.5v6.3M313.1 770.5v6.3M51.6 763.8h-6.2M51.6 730.44h-6.2M51.6 697.08h-6.2M51.6 663.72h-6.2M51.6 630.36h-6.2M51.6 597h-6.2" stroke="#222222" stroke-width="1.1" fill="none"/>
<text x="61.7" y="791.3" class="tk" text-anchor="middle">0</text>
<text x="103.6" y="791.3" class="tk" text-anchor="middle">500</text>
<text x="145.5" y="791.3" class="tk" text-anchor="middle">1000</text>
<text x="187.4" y="791.3" class="tk" text-anchor="middle">1500</text>
<text x="229.3" y="791.3" class="tk" text-anchor="middle">2000</text>
<text x="271.2" y="791.3" class="tk" text-anchor="middle">2500</text>
<text x="313.1" y="791.3" class="tk" text-anchor="middle">3000</text>
<text class="tky" text-anchor="middle" transform="translate(37.7 764.2) rotate(-90) scale(0.96 1)">0</text>
<text class="tky" text-anchor="middle" transform="translate(37.7 730.84) rotate(-90) scale(0.96 1)">20</text>
<text class="tky" text-anchor="middle" transform="translate(37.7 697.48) rotate(-90) scale(0.96 1)">40</text>
<text class="tky" text-anchor="middle" transform="translate(37.7 664.12) rotate(-90) scale(0.96 1)">60</text>
<text class="tky" text-anchor="middle" transform="translate(37.7 630.76) rotate(-90) scale(0.96 1)">80</text>
<text class="tky" text-anchor="middle" transform="translate(37.7 597.4) rotate(-90) scale(0.96 1)">100</text>
<text x="187.45" y="813.9" class="lab" text-anchor="middle">Fluid Volume × 12 hr (mL)</text>
<text class="laby" text-anchor="middle" transform="translate(15.1 680.4) rotate(-90) scale(0.933 1)">Hospital Mortality (%)</text>
<text x="188.65" y="570.7" class="ttl" text-anchor="middle">12 Hours Fluid Volume (mL) and Hospital Mortality</text>
<text x="5.26" y="556.6" class="let">E</text>
<path d="M179.6 747.5H201.3" stroke="#2b6937" stroke-width="1.8"/>
<path d="M179.6 759H201.3" stroke="#bcdbe5" stroke-width="2"/>
<text x="210.7" y="750.9" class="lg">Predicted Probability</text>
<text x="210.7" y="762.5" class="lg">Confidence Interval</text>
<polygon points="416.7,704.36 418.82,704.8 420.93,705.21 423.05,705.6 425.17,705.95 427.29,706.28 429.4,706.59 431.52,706.86 433.64,707.11 435.75,707.34 437.87,707.54 439.99,707.71 442.11,707.86 444.22,707.98 446.34,708.07 448.46,708.15 450.57,708.19 452.69,708.22 454.81,708.22 456.93,708.19 459.04,708.14 461.16,708.07 463.28,707.98 465.39,707.86 467.51,707.72 469.63,707.56 471.75,707.37 473.86,707.16 475.98,706.93 478.1,706.68 480.21,706.41 482.33,706.12 484.45,705.81 486.57,705.47 488.68,705.12 490.8,704.74 492.92,704.35 495.04,703.94 497.15,703.5 499.27,703.05 501.39,702.58 503.5,702.09 505.62,701.58 507.74,701.05 509.86,700.51 511.97,699.94 514.09,699.36 516.21,698.76 518.32,698.15 520.44,697.52 522.56,696.87 524.68,696.2 526.79,695.52 528.91,694.82 531.03,694.11 533.14,693.38 535.26,692.64 537.38,691.88 539.5,691.11 541.61,690.32 543.73,689.51 545.85,688.7 547.96,687.87 550.08,687.02 552.2,686.17 554.32,685.3 556.43,684.41 558.55,683.52 560.67,682.61 562.78,681.69 564.9,680.77 567.02,679.83 569.14,678.88 571.25,677.92 573.37,676.95 575.49,675.98 577.6,674.99 579.72,674 581.84,673 583.96,671.99 586.07,670.98 588.19,669.96 590.31,668.93 592.42,667.9 594.54,666.86 596.66,665.82 598.78,664.77 600.89,663.72 603.01,662.67 605.13,661.61 607.24,660.55 609.36,659.49 611.48,658.43 613.6,657.37 615.71,656.3 617.83,655.23 619.95,654.17 622.06,653.1 624.18,652.03 626.3,650.97 628.42,649.91 630.53,648.85 632.65,647.79 634.77,646.73 636.88,645.68 639,644.63 641.12,643.58 643.24,642.54 645.35,641.5 647.47,640.47 649.59,639.44 651.71,638.42 653.82,637.4 655.94,636.4 658.06,635.39 660.17,634.4 662.29,633.42 664.41,632.44 666.53,631.47 668.64,630.51 668.64,720.11 666.53,719.96 664.41,719.8 662.29,719.65 660.17,719.5 658.06,719.36 655.94,719.21 653.82,719.07 651.71,718.93 649.59,718.79 647.47,718.66 645.35,718.52 643.24,718.39 641.12,718.27 639,718.14 636.88,718.02 634.77,717.9 632.65,717.79 630.53,717.68 628.42,717.57 626.3,717.46 624.18,717.36 622.06,717.25 619.95,717.16 617.83,717.06 615.71,716.97 613.6,716.89 611.48,716.8 609.36,716.72 607.24,716.65 605.13,716.57 603.01,716.5 600.89,716.44 598.78,716.38 596.66,716.32 594.54,716.26 592.42,716.21 590.31,716.17 588.19,716.13 586.07,716.09 583.96,716.06 581.84,716.03 579.72,716 577.6,715.98 575.49,715.96 573.37,715.95 571.25,715.95 569.14,715.94 567.02,715.95 564.9,715.95 562.78,715.96 560.67,715.98 558.55,716 556.43,716.03 554.32,716.06 552.2,716.1 550.08,716.14 547.96,716.18 545.85,716.23 543.73,716.29 541.61,716.35 539.5,716.42 537.38,716.49 535.26,716.57 533.14,716.66 531.03,716.75 528.91,716.84 526.79,716.94 524.68,717.05 522.56,717.16 520.44,717.28 518.32,717.41 516.21,717.54 514.09,717.67 511.97,717.82 509.86,717.97 507.74,718.12 505.62,718.28 503.5,718.45 501.39,718.62 499.27,718.8 497.15,718.99 495.04,719.19 492.92,719.39 490.8,719.59 488.68,719.81 486.57,720.03 484.45,720.25 482.33,720.49 480.21,720.73 478.1,720.98 475.98,721.23 473.86,721.5 471.75,721.77 469.63,722.04 467.51,722.33 465.39,722.62 463.28,722.92 461.16,723.22 459.04,723.54 456.93,723.86 454.81,724.19 452.69,724.53 450.57,724.87 448.46,725.22 446.34,725.58 444.22,725.95 442.11,726.33 439.99,726.71 437.87,727.1 435.75,727.51 433.64,727.91 431.52,728.33 429.4,728.76 427.29,729.19 425.17,729.63 423.05,730.08 420.93,730.54 418.82,731.01 416.7,731.49" fill="#b1d6e2"/>
<path d="M416.7 587.5V767.3M460.44 587.5V767.3M504.18 587.5V767.3M547.92 587.5V767.3M591.66 587.5V767.3M635.4 587.5V767.3M407.3 760.6H678.6M407.3 727.24H678.6M407.3 693.88H678.6M407.3 660.52H678.6M407.3 627.16H678.6M407.3 593.8H678.6" stroke="#c8c8c8" stroke-width="0.9" stroke-dasharray="1 1.4" fill="none"/>
<polyline points="416.7,719.9 418.82,719.7 420.93,719.5 423.05,719.29 425.17,719.08 427.29,718.87 429.4,718.66 431.52,718.45 433.64,718.23 435.75,718.02 437.87,717.8 439.99,717.58 442.11,717.35 444.22,717.13 446.34,716.9 448.46,716.67 450.57,716.44 452.69,716.2 454.81,715.97 456.93,715.73 459.04,715.49 461.16,715.25 463.28,715 465.39,714.75 467.51,714.5 469.63,714.25 471.75,714 473.86,713.74 475.98,713.48 478.1,713.22 480.21,712.95 482.33,712.68 484.45,712.41 486.57,712.14 488.68,711.86 490.8,711.58 492.92,711.3 495.04,711.02 497.15,710.73 499.27,710.44 501.39,710.15 503.5,709.85 505.62,709.56 507.74,709.25 509.86,708.95 511.97,708.64 514.09,708.33 516.21,708.02 518.32,707.7 520.44,707.38 522.56,707.06 524.68,706.73 526.79,706.4 528.91,706.07 531.03,705.73 533.14,705.39 535.26,705.05 537.38,704.7 539.5,704.35 541.61,703.99 543.73,703.64 545.85,703.28 547.96,702.91 550.08,702.54 552.2,702.17 554.32,701.79 556.43,701.42 558.55,701.03 560.67,700.64 562.78,700.25 564.9,699.86 567.02,699.46 569.14,699.06 571.25,698.65 573.37,698.24 575.49,697.83 577.6,697.41 579.72,696.99 581.84,696.56 583.96,696.13 586.07,695.7 588.19,695.26 590.31,694.82 592.42,694.37 594.54,693.92 596.66,693.46 598.78,693 600.89,692.54 603.01,692.07 605.13,691.6 607.24,691.12 609.36,690.64 611.48,690.16 613.6,689.67 615.71,689.18 617.83,688.68 619.95,688.18 622.06,687.67 624.18,687.16 626.3,686.64 628.42,686.12 630.53,685.6 632.65,685.07 634.77,684.54 636.88,684.01 639,683.46 641.12,682.92 643.24,682.37 645.35,681.82 647.47,681.26 649.59,680.7 651.71,680.13 653.82,679.56 655.94,678.99 658.06,678.41 660.17,677.83 662.29,677.24 664.41,676.65 666.53,676.06 668.64,675.46" fill="none" stroke="#2b6937" stroke-width="1.65" stroke-linejoin="round"/>
<path d="M679.2 587.5H407.3M407.3 586.9V767.3H679.2" fill="none" stroke="#222222" stroke-width="1.2"/>
<path d="M678.6 587.5V767.3" fill="none" stroke="#222222" stroke-width="1.3" stroke-dasharray="1.5 0.7"/>
<path d="M416.7 767.3v6.3M460.44 767.3v6.3M504.18 767.3v6.3M547.92 767.3v6.3M591.66 767.3v6.3M635.4 767.3v6.3M679.14 767.3v6.3M407.3 760.6h-6.2M407.3 727.24h-6.2M407.3 693.88h-6.2M407.3 660.52h-6.2M407.3 627.16h-6.2M407.3 593.8h-6.2" stroke="#222222" stroke-width="1.1" fill="none"/>
<text x="416.7" y="788.1" class="tk" text-anchor="middle">0</text>
<text x="460.44" y="788.1" class="tk" text-anchor="middle">10</text>
<text x="504.18" y="788.1" class="tk" text-anchor="middle">20</text>
<text x="547.92" y="788.1" class="tk" text-anchor="middle">30</text>
<text x="591.66" y="788.1" class="tk" text-anchor="middle">40</text>
<text x="635.4" y="788.1" class="tk" text-anchor="middle">50</text>
<text x="679.14" y="788.1" class="tk" text-anchor="middle">60</text>
<text class="tky" text-anchor="middle" transform="translate(393.4 761) rotate(-90) scale(0.96 1)">0</text>
<text class="tky" text-anchor="middle" transform="translate(393.4 727.64) rotate(-90) scale(0.96 1)">20</text>
<text class="tky" text-anchor="middle" transform="translate(393.4 694.28) rotate(-90) scale(0.96 1)">40</text>
<text class="tky" text-anchor="middle" transform="translate(393.4 660.92) rotate(-90) scale(0.96 1)">60</text>
<text class="tky" text-anchor="middle" transform="translate(393.4 627.56) rotate(-90) scale(0.96 1)">80</text>
<text class="tky" text-anchor="middle" transform="translate(393.4 594.2) rotate(-90) scale(0.96 1)">100</text>
<text x="542.95" y="810.7" class="lab" text-anchor="middle">Fluid Volume × 12 hr (mL/kg)</text>
<text class="laby" text-anchor="middle" transform="translate(370.8 677.2) rotate(-90) scale(0.933 1)">Hospital Mortality (%)</text>
<text x="540.15" y="568.2" class="ttl" text-anchor="middle">12 Hours Fluid Volume (mL/kg) and Hospital Mortality</text>
<text x="359.26" y="558.9" class="let">F</text>
<path d="M534.6 744.7H556.3" stroke="#2b6937" stroke-width="1.8"/>
<path d="M534.6 757H556.3" stroke="#bcdbe5" stroke-width="2"/>
<text x="565.8" y="748.1" class="lg">Predicted Probability</text>
<text x="565.8" y="759.8" class="lg">Confidence Interval</text>
<polygon points="62.5,980.33 64.62,980.57 66.73,980.78 68.85,980.98 70.96,981.14 73.08,981.29 75.19,981.41 77.31,981.51 79.42,981.58 81.54,981.63 83.65,981.66 85.77,981.67 87.88,981.66 90,981.62 92.11,981.56 94.23,981.49 96.34,981.39 98.46,981.27 100.57,981.14 102.69,980.98 104.8,980.8 106.92,980.61 109.03,980.4 111.15,980.16 113.26,979.92 115.38,979.65 117.49,979.36 119.61,979.06 121.72,978.75 123.84,978.41 125.95,978.06 128.07,977.7 130.18,977.31 132.3,976.92 134.41,976.51 136.53,976.08 138.64,975.64 140.76,975.19 142.87,974.72 144.99,974.24 147.1,973.75 149.22,973.24 151.33,972.72 153.45,972.19 155.56,971.65 157.68,971.09 159.8,970.53 161.91,969.95 164.03,969.36 166.14,968.77 168.26,968.16 170.37,967.54 172.49,966.92 174.6,966.28 176.72,965.64 178.83,964.99 180.95,964.33 183.06,963.66 185.18,962.99 187.29,962.31 189.41,961.62 191.52,960.92 193.64,960.22 195.75,959.51 197.87,958.8 199.98,958.08 202.1,957.36 204.21,956.63 206.33,955.9 208.44,955.16 210.56,954.42 212.67,953.68 214.79,952.93 216.9,952.18 219.02,951.43 221.13,950.68 223.25,949.92 225.36,949.16 227.48,948.4 229.59,947.64 231.71,946.88 233.82,946.12 235.94,945.36 238.05,944.6 240.17,943.84 242.28,943.08 244.4,942.32 246.51,941.56 248.63,940.81 250.74,940.06 252.86,939.31 254.97,938.56 257.09,937.81 259.21,937.07 261.32,936.33 263.44,935.6 265.55,934.87 267.67,934.15 269.78,933.43 271.9,932.71 274.01,932 276.13,931.3 278.24,930.6 280.36,929.91 282.47,929.22 284.59,928.55 286.7,927.88 288.82,927.21 290.93,926.56 293.05,925.91 295.16,925.28 297.28,924.65 299.39,924.03 301.51,923.42 303.62,922.82 305.74,922.23 307.85,921.65 309.97,921.08 312.08,920.52 314.2,919.97 314.2,999.33 312.08,999.34 309.97,999.34 307.85,999.32 305.74,999.31 303.62,999.28 301.51,999.24 299.39,999.2 297.28,999.15 295.16,999.09 293.05,999.03 290.93,998.96 288.82,998.88 286.7,998.8 284.59,998.71 282.47,998.62 280.36,998.51 278.24,998.41 276.13,998.3 274.01,998.18 271.9,998.06 269.78,997.94 267.67,997.81 265.55,997.68 263.44,997.55 261.32,997.41 259.21,997.27 257.09,997.12 254.97,996.97 252.86,996.83 250.74,996.67 248.63,996.52 246.51,996.37 244.4,996.21 242.28,996.05 240.17,995.9 238.05,995.74 235.94,995.58 233.82,995.42 231.71,995.26 229.59,995.1 227.48,994.95 225.36,994.79 223.25,994.63 221.13,994.48 219.02,994.33 216.9,994.18 214.79,994.03 212.67,993.88 210.56,993.74 208.44,993.6 206.33,993.46 204.21,993.32 202.1,993.19 199.98,993.06 197.87,992.94 195.75,992.82 193.64,992.71 191.52,992.6 189.41,992.49 187.29,992.39 185.18,992.3 183.06,992.21 180.95,992.13 178.83,992.05 176.72,991.98 174.6,991.92 172.49,991.86 170.37,991.81 168.26,991.77 166.14,991.73 164.03,991.71 161.91,991.69 159.8,991.68 157.68,991.68 155.56,991.69 153.45,991.7 151.33,991.73 149.22,991.77 147.1,991.81 144.99,991.87 142.87,991.93 140.76,992.01 138.64,992.1 136.53,992.19 134.41,992.3 132.3,992.43 130.18,992.56 128.07,992.7 125.95,992.86 123.84,993.03 121.72,993.21 119.61,993.41 117.49,993.62 115.38,993.84 113.26,994.07 111.15,994.32 109.03,994.59 106.92,994.87 104.8,995.16 102.69,995.47 100.57,995.79 98.46,996.13 96.34,996.48 94.23,996.85 92.11,997.24 90,997.64 87.88,998.06 85.77,998.5 83.65,998.95 81.54,999.42 79.42,999.91 77.31,1000.42 75.19,1000.94 73.08,1001.48 70.96,1002.04 68.85,1002.62 66.73,1003.22 64.62,1003.84 62.5,1004.48" fill="#b1d6e2"/>
<path d="M62.5 861.5V1042M116.03 861.5V1042M169.56 861.5V1042M223.09 861.5V1042M276.62 861.5V1042M52.4 1035.3H324.3M52.4 1001.98H324.3M52.4 968.66H324.3M52.4 935.34H324.3M52.4 902.02H324.3M52.4 868.7H324.3" stroke="#c8c8c8" stroke-width="0.9" stroke-dasharray="1 1.4" fill="none"/>
<polyline points="62.5,993.49 64.62,993.24 66.73,993 68.85,992.75 70.96,992.51 73.08,992.26 75.19,992.02 77.31,991.77 79.42,991.53 81.54,991.29 83.65,991.04 85.77,990.8 87.88,990.56 90,990.31 92.11,990.07 94.23,989.83 96.34,989.59 98.46,989.35 100.57,989.11 102.69,988.86 104.8,988.62 106.92,988.38 109.03,988.14 111.15,987.9 113.26,987.66 115.38,987.42 117.49,987.18 119.61,986.94 121.72,986.7 123.84,986.46 125.95,986.22 128.07,985.98 130.18,985.74 132.3,985.5 134.41,985.26 136.53,985.02 138.64,984.78 140.76,984.54 142.87,984.29 144.99,984.05 147.1,983.81 149.22,983.57 151.33,983.33 153.45,983.09 155.56,982.85 157.68,982.61 159.8,982.36 161.91,982.12 164.03,981.88 166.14,981.64 168.26,981.39 170.37,981.15 172.49,980.9 174.6,980.66 176.72,980.42 178.83,980.17 180.95,979.92 183.06,979.68 185.18,979.43 187.29,979.18 189.41,978.94 191.52,978.69 193.64,978.44 195.75,978.19 197.87,977.94 199.98,977.69 202.1,977.43 204.21,977.18 206.33,976.93 208.44,976.67 210.56,976.42 212.67,976.16 214.79,975.91 216.9,975.65 219.02,975.39 221.13,975.13 223.25,974.87 225.36,974.61 227.48,974.35 229.59,974.09 231.71,973.82 233.82,973.56 235.94,973.29 238.05,973.02 240.17,972.75 242.28,972.48 244.4,972.21 246.51,971.94 248.63,971.67 250.74,971.39 252.86,971.12 254.97,970.84 257.09,970.56 259.21,970.28 261.32,970 263.44,969.72 265.55,969.43 267.67,969.15 269.78,968.86 271.9,968.57 274.01,968.28 276.13,967.99 278.24,967.69 280.36,967.4 282.47,967.1 284.59,966.8 286.7,966.5 288.82,966.2 290.93,965.89 293.05,965.59 295.16,965.28 297.28,964.97 299.39,964.66 301.51,964.34 303.62,964.03 305.74,963.71 307.85,963.39 309.97,963.07 312.08,962.75 314.2,962.42" fill="none" stroke="#2b6937" stroke-width="1.65" stroke-linejoin="round"/>
<rect x="52.4" y="861.5" width="271.9" height="180.5" fill="none" stroke="#222222" stroke-width="1.35"/>
<path d="M62.5 1042v6.3M116.03 1042v6.3M169.56 1042v6.3M223.09 1042v6.3M276.62 1042v6.3M52.4 1035.3h-6.2M52.4 1001.98h-6.2M52.4 968.66h-6.2M52.4 935.34h-6.2M52.4 902.02h-6.2M52.4 868.7h-6.2" stroke="#222222" stroke-width="1.1" fill="none"/>
<text x="62.5" y="1062.8" class="tk" text-anchor="middle">0</text>
<text x="116.03" y="1062.8" class="tk" text-anchor="middle">1000</text>
<text x="169.56" y="1062.8" class="tk" text-anchor="middle">2000</text>
<text x="223.09" y="1062.8" class="tk" text-anchor="middle">3000</text>
<text x="276.62" y="1062.8" class="tk" text-anchor="middle">4000</text>
<text class="tky" text-anchor="middle" transform="translate(38.5 1035.7) rotate(-90) scale(0.96 1)">0</text>
<text class="tky" text-anchor="middle" transform="translate(38.5 1002.38) rotate(-90) scale(0.96 1)">20</text>
<text class="tky" text-anchor="middle" transform="translate(38.5 969.06) rotate(-90) scale(0.96 1)">40</text>
<text class="tky" text-anchor="middle" transform="translate(38.5 935.74) rotate(-90) scale(0.96 1)">60</text>
<text class="tky" text-anchor="middle" transform="translate(38.5 902.42) rotate(-90) scale(0.96 1)">80</text>
<text class="tky" text-anchor="middle" transform="translate(38.5 869.1) rotate(-90) scale(0.96 1)">100</text>
<text x="188.35" y="1085.4" class="lab" text-anchor="middle">Fluid Volume × 24 hr (mL)</text>
<text class="laby" text-anchor="middle" transform="translate(15.9 952) rotate(-90) scale(0.933 1)">Hospital Mortality (%)</text>
<text x="189.65" y="842.2" class="ttl" text-anchor="middle">24 Hours Fluid Volume (mL) and Hospital Mortality</text>
<text x="2.25" y="834.8" class="let">G</text>
<path d="M180.5 1019.1H202" stroke="#2b6937" stroke-width="1.8"/>
<path d="M180.5 1029.3H202" stroke="#bcdbe5" stroke-width="2"/>
<text x="211.7" y="1022.1" class="lg">Predicted Probability</text>
<text x="211.7" y="1033.5" class="lg">Confidence Interval</text>
<polygon points="416.7,976.5 418.82,976.72 420.94,976.93 423.06,977.11 425.17,977.28 427.29,977.42 429.41,977.54 431.53,977.65 433.65,977.73 435.77,977.8 437.88,977.84 440,977.87 442.12,977.88 444.24,977.87 446.36,977.84 448.48,977.8 450.59,977.73 452.71,977.65 454.83,977.56 456.95,977.44 459.07,977.31 461.19,977.17 463.3,977 465.42,976.82 467.54,976.63 469.66,976.42 471.78,976.2 473.9,975.96 476.01,975.71 478.13,975.44 480.25,975.16 482.37,974.87 484.49,974.56 486.61,974.24 488.72,973.91 490.84,973.56 492.96,973.2 495.08,972.83 497.2,972.45 499.32,972.06 501.43,971.65 503.55,971.24 505.67,970.81 507.79,970.37 509.91,969.93 512.03,969.47 514.14,969 516.26,968.53 518.38,968.04 520.5,967.55 522.62,967.04 524.74,966.53 526.86,966.01 528.97,965.49 531.09,964.95 533.21,964.41 535.33,963.86 537.45,963.31 539.57,962.74 541.68,962.17 543.8,961.6 545.92,961.02 548.04,960.43 550.16,959.84 552.28,959.24 554.39,958.64 556.51,958.04 558.63,957.43 560.75,956.81 562.87,956.2 564.99,955.58 567.1,954.95 569.22,954.32 571.34,953.7 573.46,953.06 575.58,952.43 577.7,951.79 579.81,951.16 581.93,950.52 584.05,949.88 586.17,949.23 588.29,948.59 590.41,947.95 592.52,947.31 594.64,946.67 596.76,946.03 598.88,945.39 601,944.75 603.12,944.11 605.23,943.47 607.35,942.84 609.47,942.2 611.59,941.57 613.71,940.94 615.83,940.32 617.94,939.7 620.06,939.08 622.18,938.46 624.3,937.85 626.42,937.24 628.54,936.64 630.65,936.04 632.77,935.45 634.89,934.86 637.01,934.28 639.13,933.7 641.25,933.13 643.37,932.56 645.48,932 647.6,931.45 649.72,930.91 651.84,930.37 653.96,929.84 656.08,929.32 658.19,928.8 660.31,928.3 662.43,927.8 664.55,927.31 666.67,926.83 668.79,926.36 668.79,1001.06 666.67,1001.08 664.55,1001.09 662.43,1001.09 660.31,1001.08 658.19,1001.07 656.08,1001.04 653.96,1001 651.84,1000.95 649.72,1000.9 647.6,1000.84 645.48,1000.76 643.37,1000.68 641.25,1000.6 639.13,1000.5 637.01,1000.4 634.89,1000.29 632.77,1000.18 630.65,1000.05 628.54,999.93 626.42,999.79 624.3,999.65 622.18,999.51 620.06,999.35 617.94,999.2 615.83,999.04 613.71,998.87 611.59,998.71 609.47,998.53 607.35,998.36 605.23,998.18 603.12,998 601,997.81 598.88,997.62 596.76,997.43 594.64,997.24 592.52,997.05 590.41,996.85 588.29,996.65 586.17,996.45 584.05,996.26 581.93,996.06 579.81,995.86 577.7,995.66 575.58,995.46 573.46,995.26 571.34,995.06 569.22,994.86 567.1,994.67 564.99,994.47 562.87,994.28 560.75,994.09 558.63,993.9 556.51,993.72 554.39,993.53 552.28,993.35 550.16,993.18 548.04,993 545.92,992.83 543.8,992.67 541.68,992.51 539.57,992.35 537.45,992.2 535.33,992.06 533.21,991.92 531.09,991.78 528.97,991.65 526.86,991.53 524.74,991.41 522.62,991.3 520.5,991.2 518.38,991.1 516.26,991.02 514.14,990.94 512.03,990.86 509.91,990.8 507.79,990.74 505.67,990.7 503.55,990.66 501.43,990.63 499.32,990.61 497.2,990.6 495.08,990.6 492.96,990.61 490.84,990.63 488.72,990.67 486.61,990.71 484.49,990.76 482.37,990.83 480.25,990.91 478.13,991 476.01,991.1 473.9,991.22 471.78,991.34 469.66,991.48 467.54,991.64 465.42,991.81 463.3,991.99 461.19,992.19 459.07,992.4 456.95,992.62 454.83,992.86 452.71,993.12 450.59,993.39 448.48,993.67 446.36,993.97 444.24,994.29 442.12,994.63 440,994.98 437.88,995.35 435.77,995.73 433.65,996.14 431.53,996.56 429.41,997 427.29,997.45 425.17,997.93 423.06,998.43 420.94,998.94 418.82,999.47 416.7,1000.02" fill="#b1d6e2"/>
<path d="M416.7 859.6V1040M480.6 859.6V1040M544.5 859.6V1040M608.4 859.6V1040M672.3 859.6V1040M407.3 1033H678.6M407.3 999.7H678.6M407.3 966.4H678.6M407.3 933.1H678.6M407.3 899.8H678.6M407.3 866.5H678.6" stroke="#c8c8c8" stroke-width="0.9" stroke-dasharray="1 1.4" fill="none"/>
<polyline points="416.7,989.54 418.82,989.35 420.94,989.16 423.06,988.97 425.17,988.78 427.29,988.59 429.41,988.4 431.53,988.21 433.65,988.03 435.77,987.84 437.88,987.65 440,987.46 442.12,987.28 444.24,987.09 446.36,986.9 448.48,986.72 450.59,986.53 452.71,986.34 454.83,986.16 456.95,985.97 459.07,985.79 461.19,985.6 463.3,985.42 465.42,985.23 467.54,985.05 469.66,984.86 471.78,984.68 473.9,984.49 476.01,984.31 478.13,984.13 480.25,983.94 482.37,983.76 484.49,983.58 486.61,983.39 488.72,983.21 490.84,983.03 492.96,982.84 495.08,982.66 497.2,982.48 499.32,982.3 501.43,982.11 503.55,981.93 505.67,981.75 507.79,981.57 509.91,981.38 512.03,981.2 514.14,981.02 516.26,980.84 518.38,980.66 520.5,980.48 522.62,980.29 524.74,980.11 526.86,979.93 528.97,979.75 531.09,979.57 533.21,979.39 535.33,979.21 537.45,979.03 539.57,978.84 541.68,978.66 543.8,978.48 545.92,978.3 548.04,978.12 550.16,977.94 552.28,977.76 554.39,977.58 556.51,977.4 558.63,977.21 560.75,977.03 562.87,976.85 564.99,976.67 567.1,976.49 569.22,976.31 571.34,976.13 573.46,975.94 575.58,975.76 577.7,975.58 579.81,975.4 581.93,975.22 584.05,975.03 586.17,974.85 588.29,974.67 590.41,974.49 592.52,974.3 594.64,974.12 596.76,973.94 598.88,973.75 601,973.57 603.12,973.39 605.23,973.2 607.35,973.02 609.47,972.84 611.59,972.65 613.71,972.47 615.83,972.28 617.94,972.1 620.06,971.91 622.18,971.72 624.3,971.54 626.42,971.35 628.54,971.17 630.65,970.98 632.77,970.79 634.89,970.6 637.01,970.42 639.13,970.23 641.25,970.04 643.37,969.85 645.48,969.66 647.6,969.47 649.72,969.28 651.84,969.09 653.96,968.9 656.08,968.71 658.19,968.52 660.31,968.33 662.43,968.14 664.55,967.94 666.67,967.75 668.79,967.56" fill="none" stroke="#2b6937" stroke-width="1.65" stroke-linejoin="round"/>
<rect x="407.3" y="859.6" width="271.3" height="180.4" fill="none" stroke="#222222" stroke-width="1.35"/>
<path d="M416.7 1040v6.3M480.6 1040v6.3M544.5 1040v6.3M608.4 1040v6.3M672.3 1040v6.3M407.3 1033h-6.2M407.3 999.7h-6.2M407.3 966.4h-6.2M407.3 933.1h-6.2M407.3 899.8h-6.2M407.3 866.5h-6.2" stroke="#222222" stroke-width="1.1" fill="none"/>
<text x="416.7" y="1060.8" class="tk" text-anchor="middle">0</text>
<text x="480.6" y="1060.8" class="tk" text-anchor="middle">20</text>
<text x="544.5" y="1060.8" class="tk" text-anchor="middle">40</text>
<text x="608.4" y="1060.8" class="tk" text-anchor="middle">60</text>
<text x="672.3" y="1060.8" class="tk" text-anchor="middle">80</text>
<text class="tky" text-anchor="middle" transform="translate(393.4 1033.4) rotate(-90) scale(0.96 1)">0</text>
<text class="tky" text-anchor="middle" transform="translate(393.4 1000.1) rotate(-90) scale(0.96 1)">20</text>
<text class="tky" text-anchor="middle" transform="translate(393.4 966.8) rotate(-90) scale(0.96 1)">40</text>
<text class="tky" text-anchor="middle" transform="translate(393.4 933.5) rotate(-90) scale(0.96 1)">60</text>
<text class="tky" text-anchor="middle" transform="translate(393.4 900.2) rotate(-90) scale(0.96 1)">80</text>
<text class="tky" text-anchor="middle" transform="translate(393.4 866.9) rotate(-90) scale(0.96 1)">100</text>
<text x="542.95" y="1083.4" class="lab" text-anchor="middle">Fluid Volume × 24 hr (mL/kg)</text>
<text class="laby" text-anchor="middle" transform="translate(370.8 949.75) rotate(-90) scale(0.933 1)">Hospital Mortality (%)</text>
<text x="544.75" y="840.3" class="ttl" text-anchor="middle">24 Hours Fluid Volume (mL/kg) and Hospital Mortality</text>
<text x="358.66" y="831.9" class="let">H</text>
<path d="M535.1 1016.6H556.2" stroke="#2b6937" stroke-width="1.8"/>
<path d="M535.1 1028.2H556.2" stroke="#bcdbe5" stroke-width="2"/>
<text x="566" y="1019.4" class="lg">Predicted Probability</text>
<text x="566" y="1031" class="lg">Confidence Interval</text>
<text x="89.5" y="465.3" class="strayc">C</text>
</svg>
</body></html>
